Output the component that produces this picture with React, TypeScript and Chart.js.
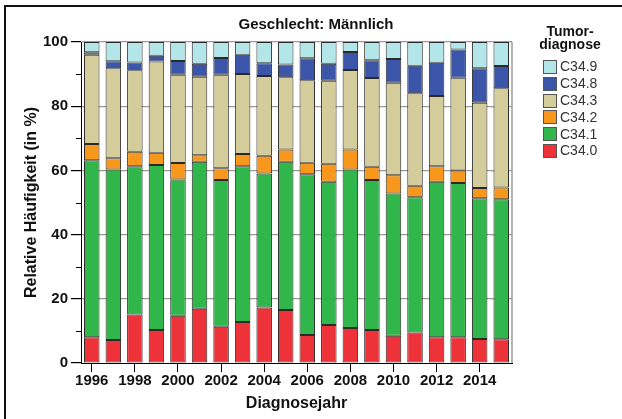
import React, { useEffect, useRef } from "react";
import { Chart, registerables } from "chart.js";

Chart.register(...registerables);

const years = ["1996","1997","1998","1999","2000","2001","2002","2003","2004","2005","2006","2007","2008","2009","2010","2011","2012","2013","2014","2015"];
const c340 = [8.0, 7.2, 15.1, 10.3, 14.7, 16.9, 11.3, 12.8, 17.3, 16.5, 8.7, 11.8, 10.9, 10.3, 8.5, 9.5, 8.0, 8.0, 7.5, 7.4];
const c341 = [55.2, 53.1, 46.2, 51.4, 42.5, 45.8, 45.7, 48.5, 41.7, 46.2, 50.1, 44.7, 49.4, 46.7, 44.3, 42.1, 48.5, 48.1, 43.8, 43.6];
const c342 = [5.0, 3.5, 4.5, 3.8, 5.1, 2.0, 3.7, 3.8, 5.6, 3.8, 3.6, 5.6, 6.2, 4.1, 5.7, 3.6, 4.8, 3.9, 3.2, 3.7];
const c343 = [27.8, 28.0, 25.4, 28.4, 27.5, 24.5, 29.1, 24.9, 24.8, 22.5, 25.7, 25.8, 24.8, 27.7, 28.8, 28.8, 21.9, 28.9, 26.6, 30.9];
const c348 = [0.8, 2.2, 2.4, 1.8, 4.3, 4.0, 5.2, 6.0, 4.0, 4.0, 6.8, 5.3, 5.6, 5.5, 7.4, 8.6, 10.3, 8.8, 10.7, 6.9];
const c349 = [3.2, 6.0, 6.4, 4.3, 5.9, 6.8, 5.0, 4.0, 6.6, 7.0, 5.1, 6.8, 3.1, 5.7, 5.3, 7.4, 6.5, 2.3, 8.2, 7.5];

const seriesNames = ["C34.0", "C34.1", "C34.2", "C34.3", "C34.8", "C34.9"];
const seriesColors = ["#ee3239", "#30b64a", "#f7981d", "#d4cd9b", "#3b56a8", "#b3e6e8"];
const chartTitle = "Geschlecht: Männlich";
const legendTitle = ["Tumor-", "diagnose"];
const xTitle = "Diagnosejahr";
const yTitle = "Relative Häufigkeit (in %)";
const minorYTicks = [10, 30, 50, 70, 90];

const FONT = "'Liberation Sans Narrow', 'Arial Narrow', 'Liberation Sans', Arial, sans-serif";

const decor = {
  id: "decor",
  afterDraw(chart: any) {
    const { ctx, chartArea, scales } = chart;
    ctx.save();
    // outer frame (left + top)
    ctx.fillStyle = "#111";
    ctx.fillRect(4, 5, 2, 414);
    ctx.fillRect(4, 5, 618, 2);
    // right plot frame
    ctx.strokeStyle = "#9a9a9a";
    ctx.lineWidth = 1.5;
    ctx.beginPath();
    ctx.moveTo(chartArea.right, chartArea.top);
    ctx.lineTo(chartArea.right, chartArea.bottom);
    ctx.stroke();
    // minor y ticks
    ctx.strokeStyle = "#000";
    ctx.lineWidth = 1;
    for (const v of minorYTicks) {
      const y = Math.round(scales.y.getPixelForValue(v)) + 0.5;
      ctx.beginPath();
      ctx.moveTo(chartArea.left - 5, y);
      ctx.lineTo(chartArea.left, y);
      ctx.stroke();
    }
    // chart title
    ctx.fillStyle = "#111";
    ctx.textAlign = "center";
    ctx.textBaseline = "middle";
    ctx.font = `bold 15px ${FONT}`;
    ctx.fillText(chartTitle, 316, 25);
    // legend title
    ctx.font = `bold 14px ${FONT}`;
    ctx.fillText(legendTitle[0], 570, 32);
    ctx.fillText(legendTitle[1], 570, 45);
    // legend items (reverse order)
    ctx.textAlign = "left";
    ctx.font = `14px ${FONT}`;
    const ds = chart.data.datasets.slice().reverse();
    ds.forEach((d: any, i: number) => {
      const cy = 67 + i * 16.8;
      ctx.fillStyle = d.backgroundColor;
      ctx.fillRect(543, Math.round(cy - 7), 14, 14);
      ctx.strokeStyle = "#555";
      ctx.lineWidth = 1;
      ctx.strokeRect(543.5, Math.round(cy - 7) + 0.5, 13, 13);
      ctx.fillStyle = "#333";
      ctx.fillText(d.label, 560, cy + 0.5);
    });
    ctx.restore();
  },
};

export default function App() {
  const ref = useRef<HTMLCanvasElement>(null);
  useEffect(() => {
    document.body.style.margin = "0";
    document.body.style.overflow = "hidden";
    const data = [c340, c341, c342, c343, c348, c349];
    const chart = new Chart(ref.current!, {
      type: "bar",
      data: {
        labels: years,
        datasets: seriesNames.map((name, i) => ({
          label: name,
          data: data[i],
          backgroundColor: seriesColors[i],
          borderColor: "#2a2a2a",
          borderWidth: 1,
          borderSkipped: false,
          barPercentage: 0.72,
          categoryPercentage: 1,
        })),
      },
      options: {
        animation: false,
        responsive: false,
        layout: { padding: { left: 0, top: 42, right: 110, bottom: 0 } },
        plugins: { legend: { display: false }, title: { display: false }, tooltip: { enabled: false } },
        scales: {
          x: {
            stacked: true,
            offset: true,
            afterFit: (s: any) => { s.height = 56; },
            grid: {
              offset: false,
              drawOnChartArea: false,
              tickLength: 9,
              tickColor: (c: any) => (c.index % 2 === 0 ? "#000" : "rgba(0,0,0,0)"),
            },
            border: { color: "#000", width: 1 },
            ticks: {
              autoSkip: false,
              maxRotation: 0,
              padding: 0,
              color: "#111",
              font: { family: FONT, size: 15, weight: "bold", lineHeight: 1.2 },
              callback: (_v: any, i: number) => (i % 2 === 0 ? years[i] : ""),
            },
            title: {
              display: true,
              text: xTitle,
              color: "#111",
              font: { family: FONT, size: 16, weight: "bold", lineHeight: 1.2 },
              padding: { top: 0, bottom: 6 },
            },
          },
          y: {
            stacked: true,
            min: 0,
            max: 100,
            afterFit: (s: any) => { s.width = 81; },
            grid: {
              color: (c: any) => (c.tick && c.tick.value === 0 ? "rgba(0,0,0,0)" : "#9a9a9a"),
              tickColor: "#000",
              tickLength: 10,
              lineWidth: 1.2,
            },
            border: { color: "#000", width: 1 },
            ticks: {
              stepSize: 20,
              padding: 3,
              color: "#111",
              font: { family: FONT, size: 15, weight: "bold" },
            },
            title: {
              display: true,
              text: yTitle,
              color: "#111",
              font: { family: FONT, size: 16, weight: "bold", lineHeight: 1.2 },
              padding: { top: 22, bottom: 0 },
            },
          },
        },
      },
      plugins: [decor],
    });
    return () => chart.destroy();
  }, []);
  return <canvas ref={ref} width={622} height={419} style={{ display: "block" }} />;
}
